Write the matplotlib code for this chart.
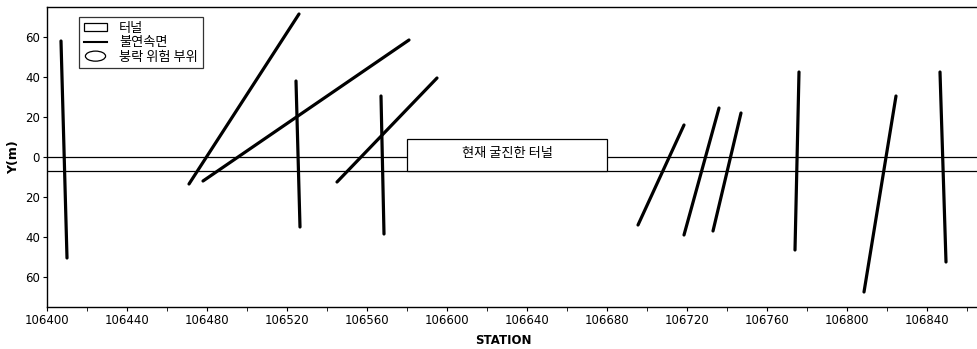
import matplotlib
matplotlib.use('Agg')
import matplotlib.pyplot as plt
import matplotlib.patches as mpatches
from matplotlib.legend_handler import HandlerPatch
from matplotlib.lines import Line2D

plt.rcParams['font.family'] = ['Noto Sans CJK KR', 'DejaVu Sans']

# discontinuity traces (station, y) start -> end
fault_x0 = [106407, 106471, 106478, 106524.5, 106545, 106567, 106695.5, 106718.5, 106733, 106776, 106808.5, 106846.5]
fault_y0 = [58, -13.5, -12, 38, -12.5, 30.5, -34, -39, -37, 42.5, -67.5, 42.5]
fault_x1 = [106410, 106526, 106581, 106526.5, 106595, 106568.5, 106718.5, 106736, 106747, 106774, 106824.5, 106849.5]
fault_y1 = [-50.5, 71.5, 58.5, -35, 39.5, -38.5, 16, 24.5, 22, -46.5, 30.5, -52.5]

# tunnel
tunnel_top = 0
tunnel_bottom = -7
box_x = [106580, 106680]
box_y = [-7, 9]
box_label = '현재 굴진한 터널'

xticks = [106400, 106440, 106480, 106520, 106560, 106600, 106640, 106680, 106720, 106760, 106800, 106840]
yticks = [60, 40, 20, 0, -20, -40, -60]
ytick_labels = ['60', '40', '20', '0', '20', '40', '60']

fig = plt.figure(figsize=(9.78, 3.49), dpi=100)
ax = fig.add_axes([47 / 978, 42 / 349, 931 / 978, 300 / 349])

ax.axhline(tunnel_top, color='black', lw=0.9, zorder=1)
ax.axhline(tunnel_bottom, color='black', lw=0.9, zorder=1)

ax.add_patch(mpatches.Rectangle((box_x[0], box_y[0]), box_x[1] - box_x[0], box_y[1] - box_y[0],
                                facecolor='white', edgecolor='black', lw=0.9, zorder=2))
ax.text(sum(box_x) / 2, 1.5, box_label, ha='center', va='center', fontsize=9.5, zorder=3)

for x0, y0, x1, y1 in zip(fault_x0, fault_y0, fault_x1, fault_y1):
    ax.plot([x0, x1], [y0, y1], color='black', lw=2.3, solid_capstyle='round', zorder=4)

ax.set_xlim(106400, 106865.5)
ax.set_ylim(-75, 75)
ax.set_xticks(xticks)
ax.set_xticks(range(106400, 106861, 20), minor=True)
ax.set_yticks(yticks)
ax.set_yticklabels(ytick_labels)
ax.tick_params(axis='both', labelsize=8.5, direction='out', length=3, pad=2)
ax.tick_params(axis='x', which='minor', length=3)
for lbl in ax.get_xticklabels() + ax.get_yticklabels():
    lbl.set_family('DejaVu Sans')

ax.spines['right'].set_visible(False)
for s in ['left', 'bottom', 'top']:
    ax.spines[s].set_linewidth(1.0)

ax.set_ylabel('Y(m)', fontsize=9, fontweight='bold', family='DejaVu Sans', labelpad=4)
fig.text(503 / 978, 1 - 340 / 349, 'STATION', ha='center', va='center',
         fontsize=8.5, fontweight='bold', family='DejaVu Sans')


def make_ellipse(legend, orig_handle, xdescent, ydescent, width, height, fontsize):
    return mpatches.Ellipse((width / 2 - xdescent, height / 2 - ydescent), width * 0.85, height * 1.2)


h_tunnel = mpatches.Rectangle((0, 0), 1, 1, facecolor='white', edgecolor='black', lw=0.9)
h_fault = Line2D([], [], color='black', lw=1.5)
h_risk = mpatches.Ellipse((0, 0), 1, 1, facecolor='white', edgecolor='black', lw=0.9)

leg = ax.legend([h_tunnel, h_fault, h_risk], ['터널', '불연속면', '붕락 위험 부위'],
                handler_map={mpatches.Ellipse: HandlerPatch(patch_func=make_ellipse)},
                loc='upper left', bbox_to_anchor=(32 / 931, 1 - 10 / 300),
                fontsize=9.5, frameon=True, fancybox=False, edgecolor='black',
                handlelength=1.8, handleheight=0.6, labelspacing=0.12,
                borderpad=0.35, handletextpad=0.9, borderaxespad=0)
leg.get_frame().set_linewidth(0.9)

fig.savefig('out.png', dpi=100)
